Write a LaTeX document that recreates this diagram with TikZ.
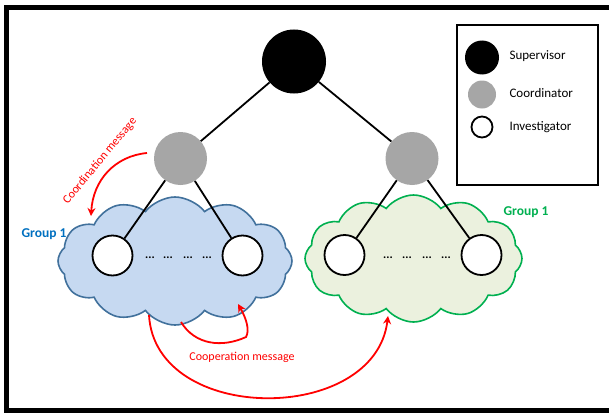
\documentclass[tikz,border=0pt]{standalone}
\usepackage{fontspec}
\setmainfont{Carlito}
\usetikzlibrary{shapes.symbols,arrows.meta}
\definecolor{cblue}{HTML}{C6D9F1}
\definecolor{cblueb}{HTML}{41719C}
\definecolor{cgreen}{HTML}{EBF1DE}
\definecolor{cgreenb}{HTML}{00B050}
\definecolor{grpblue}{HTML}{0070C0}
\definecolor{coordgray}{HTML}{A6A6A6}
\tikzset{
  supnode/.style={circle,fill=black,inner sep=0,minimum size=#1},
  coordnode/.style={circle,fill=coordgray,inner sep=0,minimum size=#1},
  invnode/.style={circle,draw=black,fill=white,line width=1.8pt,inner sep=0,minimum size=#1},
  cloudnode/.style={cloud,cloud puffs=12,cloud puff arc=105,line width=1.6pt,inner sep=0,aspect=2},
  treeline/.style={line width=1.8pt,black},
  msgarrow/.style={red,line width=1.8pt,-{Stealth[length=8pt,width=8pt]}},
  msgtext/.style={red,font=\fontsize{12}{14}\selectfont,inner sep=1pt},
  legtext/.style={anchor=west,font=\fontsize{13}{15}\selectfont},
  dots/.style={font=\fontsize{12}{13}\selectfont\bfseries,inner sep=0},
  grptext/.style={font=\fontsize{13.5}{16}\selectfont\bfseries}
}
\begin{document}
\begin{tikzpicture}[x=1pt,y=-1pt]
\useasboundingbox (0,0) rectangle (609,412);
\fill[white] (0,0) rectangle (609,412);
% frame
\draw[line width=5pt] (612,7.5) -- (6.5,7.5) -- (6.5,410.5) -- (612,410.5);
% legend
\node[draw=black,line width=1.2pt,minimum width=141,minimum height=160,inner sep=0] (legend) at (527.5,105) {};
\node[supnode=34] (lsup) at (482,57.5) {};
\node[coordnode=28] (lcoord) at (482,94.5) {};
\node[invnode=21] (linv) at (482,127) {};
\node[legtext] (tsup) at (506,56) {Supervisor};
\node[legtext] (tcoord) at (506,93.5) {Coordinator};
\node[legtext] (tinv) at (506,127.5) {Investigator};
% clouds
\node[cloudnode,draw=cblueb,fill=cblue,minimum width=234,minimum height=128] (cloudL) at (175,261) {};
\node[cloudnode,draw=cgreenb,fill=cgreen,minimum width=217,minimum height=127] (cloudR) at (413.5,258.5) {};
\node[grptext,text=grpblue] (gL) at (44,234) {Group 1};
\node[grptext,text=cgreenb] (gR) at (526,212) {Group 1};
% nodes
\node[supnode=64] (sup) at (294,61.5) {};
\node[coordnode=53] (cL) at (180.5,158.5) {};
\node[coordnode=53] (cR) at (412,158.5) {};
\node[invnode=40] (iL1) at (112.5,255.5) {};
\node[invnode=40] (iL2) at (242.5,255.5) {};
\node[invnode=40] (iR1) at (344.5,255) {};
\node[invnode=40] (iR2) at (481.5,255) {};
% tree lines
\draw[treeline] (sup) -- (cL);
\draw[treeline] (sup) -- (cR);
\draw[treeline] (cL) -- (iL1);
\draw[treeline] (cL) -- (iL2);
\draw[treeline] (cR) -- (iR1);
\draw[treeline] (cR) -- (iR2);
% dots
\foreach \x [count=\i] in {150,168,188,207} \node[dots] (dL\i) at (\x,258) {...};
\foreach \x [count=\i] in {388,407,427,446} \node[dots] (dR\i) at (\x,258) {...};
% coordination message
\coordinate (caS) at (147,153);
\coordinate (caE) at (91,216);
\draw[msgarrow] (caS) .. controls (115,156) and (93,180) .. (caE);
\node[msgtext,rotate=50.5] (ctext) at (100,161) {Coordination message};
% cooperation messages
\coordinate (c1S) at (181,322);
\coordinate (c1M) at (246,337);
\coordinate (c1E) at (238,304);
\draw[msgarrow] (c1S) .. controls (195,345) and (222,348) .. (c1M) .. controls (250,330) and (246,318) .. (c1E);
\coordinate (c2S) at (149,315);
\coordinate (c2E) at (388,316);
\draw[msgarrow] (c2S) .. controls (155,425) and (375,425) .. (c2E);
\node[msgtext] (optext) at (242,357) {Cooperation message};
\end{tikzpicture}
\end{document}
